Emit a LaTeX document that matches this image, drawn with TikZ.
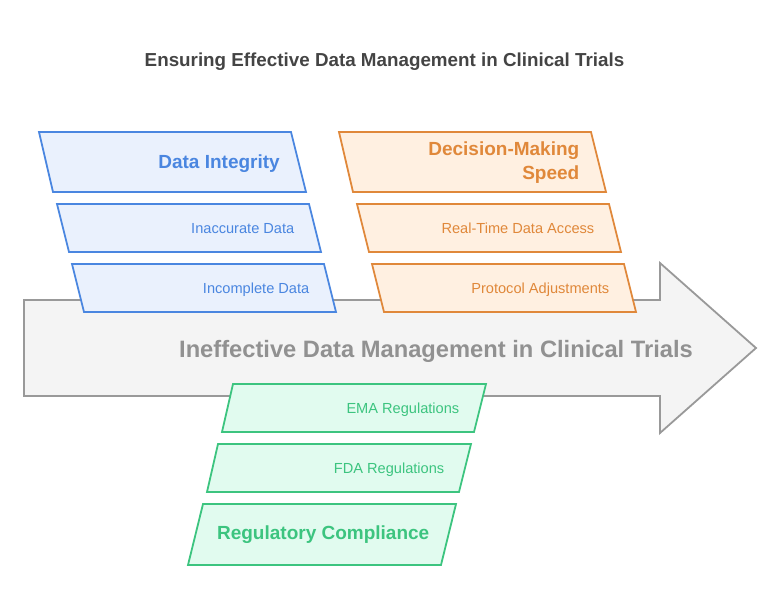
\documentclass[tikz,border=0pt]{standalone}
\usepackage{fontspec}
\setmainfont{Liberation Sans}
\usepackage{xcolor}
\usepackage{tikz}
\usetikzlibrary{positioning}
\definecolor{bluln}{HTML}{4A86E0}
\definecolor{blubg}{HTML}{EAF1FD}
\definecolor{orgln}{HTML}{E0883A}
\definecolor{orgbg}{HTML}{FFF0E1}
\definecolor{grnln}{HTML}{3CC47F}
\definecolor{grnbg}{HTML}{E1FBEF}
\definecolor{arrln}{HTML}{999999}
\definecolor{arrbg}{HTML}{F4F4F4}
\definecolor{ttlcol}{HTML}{444444}
\tikzset{
  BP/.style={draw=bluln, fill=blubg, line width=1.8pt, line join=miter},
  OP/.style={draw=orgln, fill=orgbg, line width=1.8pt, line join=miter},
  GP/.style={draw=grnln, fill=grnbg, line width=1.8pt, line join=miter},
  HT/.style={font=\fontsize{19}{24}\selectfont\bfseries, inner sep=0pt, anchor=base east},
  ST/.style={font=\fontsize{14.6}{17}\selectfont, inner sep=0pt, anchor=base east}
}

\begin{document}
\begin{tikzpicture}[x=1pt, y=-1pt,
  AR/.style={draw=arrln, fill=arrbg, line width=1.8pt, line join=miter}
]
\useasboundingbox (0,0) rectangle (780,613);

% Title
\node[font=\fontsize{18.8}{22}\selectfont\bfseries, text=ttlcol, inner sep=0pt, anchor=base]
    (title) at (384.5,66) {Ensuring Effective Data Management in Clinical Trials};

% Main arrow
\draw[AR] (24,300) -- (660,300) -- (660,263) -- (756,348) -- (660,433)
    -- (660,396) -- (24,396) -- cycle;
\node[font=\fontsize{23.7}{28}\selectfont\bfseries, text=arrln!95!black, inner sep=0pt, anchor=base]
    (main) at (436,357) {Ineffective Data Management in Clinical Trials};

% Data integrity (blue)
\draw[BP] (39,132) -- (291,132) -- (306,192) -- (53,192) -- cycle;
\draw[BP] (57,204) -- (309,204) -- (321,252) -- (69,252) -- cycle;
\draw[BP] (72,264) -- (324,264) -- (336,312) -- (84,312) -- cycle;
\node[HT, text=bluln] (integ)  at (280,168)   {Data Integrity};
\node[ST, text=bluln] (inacc)  at (294.5,233) {Inaccurate Data};
\node[ST, text=bluln] (incomp) at (309.5,293) {Incomplete Data};

% Decision-making speed (orange)
\draw[OP] (339,132) -- (591,132) -- (606,192) -- (353,192) -- cycle;
\draw[OP] (357,204) -- (609,204) -- (621,252) -- (369,252) -- cycle;
\draw[OP] (372,264) -- (624,264) -- (636,312) -- (384,312) -- cycle;
\node[HT, text=orgln, align=right, anchor=east] (speed) at (579.5,163)
    {Decision-Making\\Speed};
\node[ST, text=orgln] (realt) at (594.5,233) {Real-Time Data Access};
\node[ST, text=orgln] (proto) at (609.5,293) {Protocol Adjustments};

% Regulatory compliance (green)
\draw[GP] (233,384) -- (486,384) -- (474,432) -- (222,432) -- cycle;
\draw[GP] (218,444) -- (471,444) -- (459,492) -- (207,492) -- cycle;
\draw[GP] (203,504) -- (456,504) -- (441,565) -- (188,565) -- cycle;
\node[ST, text=grnln] (ema)   at (459.5,413) {EMA Regulations};
\node[ST, text=grnln] (fda)   at (444.5,473) {FDA Regulations};
\node[HT, text=grnln] (regul) at (429.5,539) {Regulatory Compliance};

\end{tikzpicture}
\end{document}
